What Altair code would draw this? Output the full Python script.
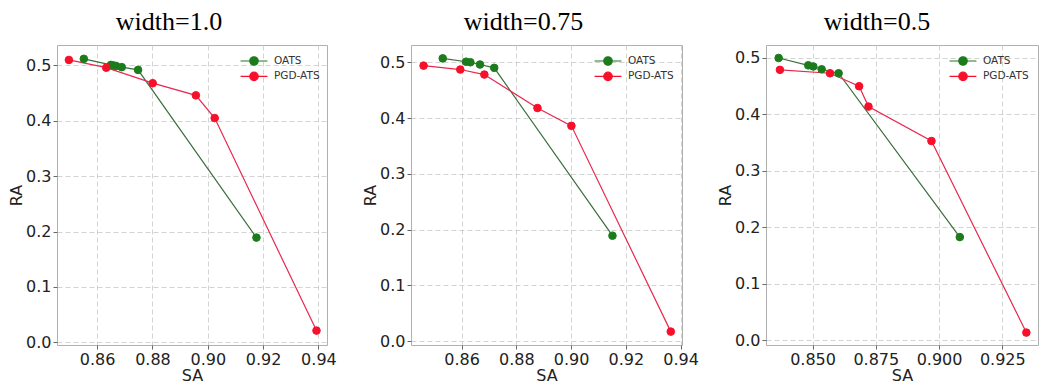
import altair as alt
import pandas as pd

series_names = ["OATS", "PGD-ATS"]
panel_titles = ["width=1.0", "width=0.75", "width=0.5"]

# panel 1 (width=1.0)
p1_oats_sa = [0.8552, 0.8650, 0.8660, 0.8669, 0.8689, 0.8748, 0.9176]
p1_oats_ra = [0.512, 0.501, 0.500, 0.499, 0.497, 0.492, 0.189]
p1_pgd_sa = [0.8498, 0.8633, 0.8801, 0.8957, 0.9025, 0.9393]
p1_pgd_ra = [0.510, 0.496, 0.468, 0.446, 0.405, 0.021]

# panel 2 (width=0.75)
p2_oats_sa = [0.8531, 0.8616, 0.8632, 0.8667, 0.8719, 0.9151]
p2_oats_ra = [0.507, 0.501, 0.500, 0.496, 0.490, 0.189]
p2_pgd_sa = [0.8461, 0.8595, 0.8683, 0.8877, 0.9001, 0.9364]
p2_pgd_ra = [0.494, 0.487, 0.478, 0.418, 0.386, 0.017]

# panel 3 (width=0.5)
p3_oats_sa = [0.8366, 0.8483, 0.8503, 0.8536, 0.8603, 0.9082]
p3_oats_ra = [0.500, 0.487, 0.485, 0.480, 0.473, 0.183]
p3_pgd_sa = [0.8371, 0.8569, 0.8684, 0.8721, 0.8970, 0.9345]
p3_pgd_ra = [0.479, 0.473, 0.450, 0.414, 0.353, 0.014]

# tick labels
x_ticks_12 = [0.86, 0.88, 0.90, 0.92, 0.94]
x_ticks_3 = [0.850, 0.875, 0.900, 0.925]
y_ticks = [0.0, 0.1, 0.2, 0.3, 0.4, 0.5]

marker_colors = ["#1c7c1c", "#f8102a"]
line_colors = ["#3a6e3a", "#e8284e"]

legend_path = ("M-1.9,0H1.9M-0.6,0A0.6,0.6 0 1,0 0.6,0"
               "A0.6,0.6 0 1,0 -0.6,0Z")


def make_panel(o_sa, o_ra, p_sa, p_ra, xdom, ydom, xticks, xfmt, title, w, dx):
    df = pd.DataFrame({
        "SA": list(o_sa) + list(p_sa),
        "RA": list(o_ra) + list(p_ra),
        "series": [series_names[0]] * len(o_sa) + [series_names[1]] * len(p_sa),
    })
    base = alt.Chart(df)
    x = alt.X("SA:Q", scale=alt.Scale(domain=xdom, nice=False, zero=False),
              axis=alt.Axis(values=xticks, format=xfmt, title="SA", labelFlush=False))
    y = alt.Y("RA:Q", scale=alt.Scale(domain=ydom, nice=False, zero=False),
              axis=alt.Axis(values=y_ticks, format=".1f", title="RA", labelFlush=False))
    leg = alt.Legend(title=None, orient="none", legendX=189, legendY=8,
                     symbolType=legend_path, symbolSize=200, symbolStrokeWidth=1.2,
                     labelOffset=12, rowPadding=0.4, padding=0,
                     labelFont="DejaVu Sans", labelFontSize=10.5, labelColor="#333333")
    layers = []
    for name, lc in zip(series_names, line_colors):
        layers.append(
            base.transform_filter(alt.datum.series == name)
            .mark_line(strokeWidth=1.2, color=lc)
            .encode(x=x, y=y)
        )
    points = base.mark_point(filled=True, size=58, opacity=1, strokeWidth=1).encode(
        x=x, y=y,
        fill=alt.Fill("series:N", scale=alt.Scale(domain=series_names, range=marker_colors),
                      legend=leg),
        stroke=alt.Stroke("series:N", scale=alt.Scale(domain=series_names, range=marker_colors),
                          legend=leg),
    )
    layers.append(points)
    return alt.layer(*layers).properties(
        width=w, height=300,
        title=alt.TitleParams(title, font="Liberation Serif", fontSize=26,
                              fontWeight="normal", color="black", anchor="middle",
                              dx=dx, offset=10),
    )


p1 = make_panel(p1_oats_sa, p1_oats_ra, p1_pgd_sa, p1_pgd_ra,
                [0.8455, 0.9431], [-0.005, 0.537], x_ticks_12, ".2f", panel_titles[0], 270, -23)
p2 = make_panel(p2_oats_sa, p2_oats_ra, p2_pgd_sa, p2_pgd_ra,
                [0.8415, 0.9405], [-0.007, 0.531], x_ticks_12, ".2f", panel_titles[1], 271, -23)
p3 = make_panel(p3_oats_sa, p3_oats_ra, p3_pgd_sa, p3_pgd_ra,
                [0.8316, 0.9391], [-0.008, 0.523], x_ticks_3, ".3f", panel_titles[2], 272, -25)

chart = alt.hconcat(p1, p2, p3, spacing=84, bounds="flush").resolve_scale(
    x="independent", y="independent",
    fill="independent", stroke="independent",
).resolve_legend(
    fill="independent", stroke="independent",
).properties(
    padding={"left": 0, "top": 0, "right": 5, "bottom": 5},
    background="white",
).configure_axis(
    labelFont="DejaVu Sans", labelFontSize=16, labelColor="#222222",
    titleFont="DejaVu Sans", titleFontSize=16, titleFontWeight="normal", titleColor="#222222",
    tickSize=4, tickColor="#666666", domain=False,
    grid=True, gridDash=[5, 3], gridColor="#c8c8c8", gridWidth=0.8,
).configure_axisY(
    labelPadding=2, titlePadding=1,
).configure_axisX(
    labelPadding=2, titlePadding=0,
).configure_view(
    stroke="#b0b0b0", strokeWidth=1,
)

chart.save("out.html", embed_options={"renderer": "svg", "actions": False})
